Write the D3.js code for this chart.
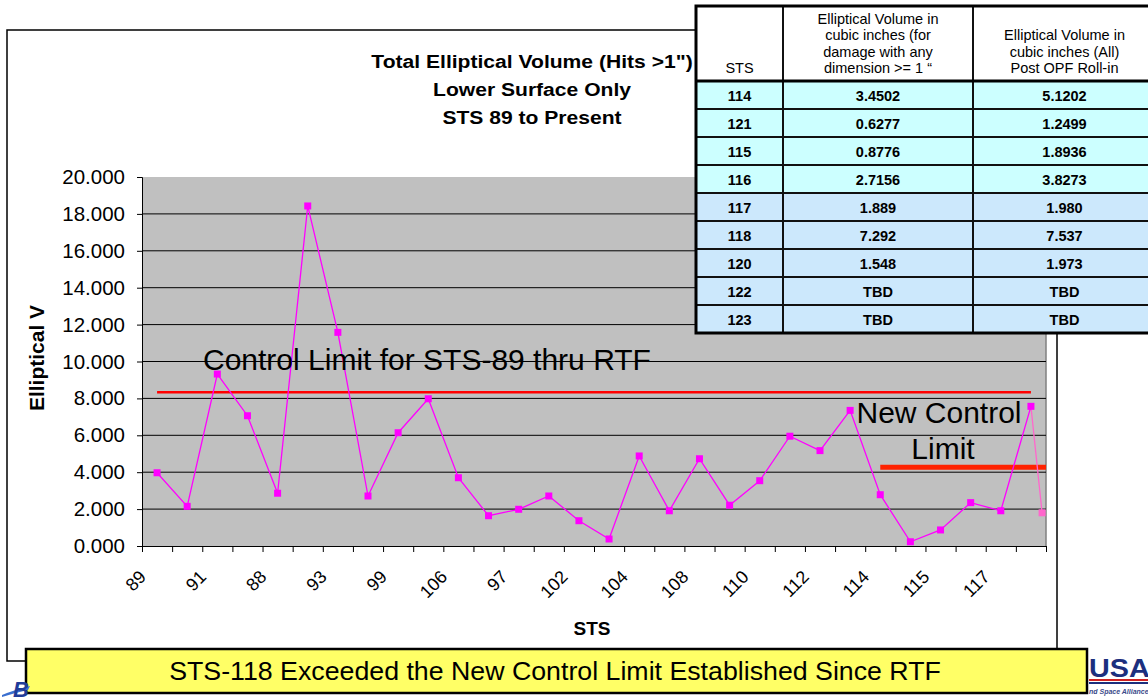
<!DOCTYPE html>
<html>
<head>
<meta charset="utf-8">
<script src="https://cdn.jsdelivr.net/npm/d3@7"></script>
<style>
  body { margin: 0; background: #fff; }
  svg { display: block; font-family: "Liberation Sans", Arial, sans-serif; }
</style>
</head>
<body>
<svg width="1148" height="700"></svg>
<script>
// chart data
const categories = ["89","90","91","95","88","96","93","103","99","101","106","92","97","98","102",
                    "100","104","105","108","109","110","111","112","113","114","121","115","116","117","118"]
const volume = [3.97, 2.15, 9.32, 7.06, 2.86, 18.43, 11.58, 2.71, 6.14, 7.98, 3.70, 1.64, 1.99, 2.71, 1.37,
                0.38, 4.88, 1.91, 4.73, 2.21, 3.54, 5.95, 5.17, 7.35, 2.78, 0.23, 0.87, 2.35, 1.91, 7.57]
const trailingPoint = { pos: 29.87, value: 1.80 }
const yTicks = [0, 2, 4, 6, 8, 10, 12, 14, 16, 18, 20]
const oldLimit = { value: 8.33, from: 0.5, to: 29.5 }
const newLimit = { value: 4.27, from: 24.5, to: 30 }

const titleLines = ["Total Elliptical Volume (Hits >1\")", "Lower Surface Only", "STS 89 to Present"]

// table
const tableSts = ["114","121","115","116","117","118","120","122","123"]
const tableVolume1in = ["3.4502","0.6277","0.8776","2.7156","1.889","7.292","1.548","TBD","TBD"]
const tableVolumeAll = ["5.1202","1.2499","1.8936","3.8273","1.980","7.537","1.973","TBD","TBD"]
const tableHeaders = [
    ["STS"],
    ["Elliptical Volume in", "cubic inches (for", "damage with any", "dimension >= 1 \u201c"],
    ["Elliptical Volume in", "cubic inches (All)", "Post OPF Roll-in"]
]

const config = {
    plot: { left: 142, right: 1046, top: 177, bottom: 546 },
    magenta: "#ff00ff"
}

const svg = d3.select("svg")

const x = d3.scaleLinear().domain([0, categories.length]).range([config.plot.left, config.plot.right])
const y = d3.scaleLinear().domain([0, 20]).range([config.plot.bottom, config.plot.top])

function drawFrame() {
    svg.append("rect")
        .attr("x", 7).attr("y", 30)
        .attr("width", 1050).attr("height", 631)
        .attr("fill", "#fff").attr("stroke", "#000").attr("stroke-width", 1.5)

    svg.append("rect")
        .attr("x", x(0)).attr("y", y(20))
        .attr("width", x(categories.length) - x(0)).attr("height", y(0) - y(20))
        .attr("fill", "#c0c0c0")

    svg.append("line")
        .attr("x1", x(categories.length)).attr("x2", x(categories.length))
        .attr("y1", y(20)).attr("y2", y(0))
        .attr("stroke", "#808080").attr("stroke-width", 1.5)

    svg.append("g")
        .selectAll("line")
        .data(yTicks.filter(d => d > 0 && d < 20))
        .join("line")
        .attr("x1", x(0)).attr("x2", x(categories.length))
        .attr("y1", d => y(d)).attr("y2", d => y(d))
        .attr("stroke", "#000").attr("stroke-width", 1)

    // slide title is a bit stretched sideways
    svg.selectAll(".title")
        .data(titleLines)
        .join("text")
        .attr("transform", (d, i) => "translate(532," + (68 + i * 28) + ") scale(1.14,1)")
        .attr("text-anchor", "middle")
        .attr("font-weight", "bold").attr("font-size", 18.5)
        .text(d => d)
}

function drawAxes() {
    const yAxis = d3.axisLeft(y)
        .tickValues(yTicks)
        .tickFormat(d3.format(".3f"))
        .tickSize(5).tickPadding(12)

    const gy = svg.append("g")
        .attr("transform", "translate(" + x(0) + ",0)")
        .call(yAxis)
    gy.selectAll("text").attr("font-size", 20.5).attr("font-family", null).attr("fill", "#000")
    gy.selectAll("line, path").attr("stroke", "#000")

    const xAxis = d3.axisBottom(x)
        .tickValues(d3.range(0, categories.length + 1))
        .tickFormat("")
        .tickSize(6).tickSizeOuter(0)

    const gx = svg.append("g")
        .attr("transform", "translate(0," + y(0) + ")")
        .call(xAxis)
    gx.selectAll("line, path").attr("stroke", "#000")

    svg.append("g")
        .selectAll("text")
        .data(categories.map((c, i) => ({ c, i })).filter(d => d.i % 2 === 0))
        .join("text")
        .attr("transform", d => "translate(" + (x(d.i + 0.5) - 10) + ",578) rotate(-45)")
        .attr("text-anchor", "end")
        .attr("font-size", 18)
        .text(d => d.c)

    svg.append("text")
        .attr("x", 592).attr("y", 635)
        .attr("text-anchor", "middle")
        .attr("font-weight", "bold").attr("font-size", 19)
        .text("STS")

    svg.append("text")
        .attr("transform", "translate(44,358) rotate(-90)")
        .attr("text-anchor", "middle")
        .attr("font-weight", "bold").attr("font-size", 21)
        .text("Elliptical V")
}

function drawLimits() {
    svg.append("line")
        .attr("x1", x(oldLimit.from)).attr("x2", x(oldLimit.to))
        .attr("y1", y(oldLimit.value)).attr("y2", y(oldLimit.value))
        .attr("stroke", "#ff0000").attr("stroke-width", 2.5)

    svg.append("line")
        .attr("x1", x(newLimit.from)).attr("x2", x(newLimit.to))
        .attr("y1", y(newLimit.value)).attr("y2", y(newLimit.value))
        .attr("stroke", "#ff2200").attr("stroke-width", 5)
}

function drawSeries() {
    const pts = volume.map((v, i) => [x(i + 0.5), y(v)])
    const last = pts[pts.length - 1]
    const tail = [x(trailingPoint.pos), y(trailingPoint.value)]

    svg.append("line")
        .attr("x1", last[0]).attr("y1", last[1])
        .attr("x2", tail[0]).attr("y2", tail[1])
        .attr("stroke", "#ff66cc").attr("stroke-width", 1.3)

    svg.append("path")
        .attr("d", d3.line()(pts))
        .attr("fill", "none")
        .attr("stroke", config.magenta).attr("stroke-width", 1.3)

    svg.append("g")
        .selectAll("rect")
        .data(pts)
        .join("rect")
        .attr("x", d => d[0] - 3.5).attr("y", d => d[1] - 3.5)
        .attr("width", 7).attr("height", 7)
        .attr("fill", config.magenta)

    svg.append("rect")
        .attr("x", tail[0] - 3.5).attr("y", tail[1] - 3.5)
        .attr("width", 7).attr("height", 7)
        .attr("fill", "#ff66cc")
}

function drawNotes() {
    svg.append("text")
        .attr("x", 203).attr("y", 370)
        .attr("font-size", 30)
        .text("Control Limit for STS-89 thru RTF")

    svg.append("text")
        .attr("x", 939).attr("y", 423)
        .attr("text-anchor", "middle")
        .attr("font-size", 30)
        .text("New Control")

    svg.append("text")
        .attr("x", 943).attr("y", 459)
        .attr("text-anchor", "middle")
        .attr("font-size", 30)
        .text("Limit")
}

function drawTable() {
    const cols = [696, 783, 973, 1156]
    const top = 6, headBottom = 81, rowH = 28
    const g = svg.append("g")
    const rowFill = i => i < 4 ? "#ccffff" : "#cce8fc"

    g.append("rect")
        .attr("x", cols[0]).attr("y", top)
        .attr("width", cols[3] - cols[0]).attr("height", headBottom - top)
        .attr("fill", "#fff")

    g.selectAll(".row")
        .data(tableSts)
        .join("rect")
        .attr("x", cols[0]).attr("y", (d, i) => headBottom + i * rowH)
        .attr("width", cols[3] - cols[0]).attr("height", rowH)
        .attr("fill", (d, i) => rowFill(i))

    const bottom = headBottom + tableSts.length * rowH

    // inner lines
    g.selectAll(".hl")
        .data(d3.range(1, tableSts.length))
        .join("line")
        .attr("x1", cols[0]).attr("x2", cols[3])
        .attr("y1", i => headBottom + i * rowH).attr("y2", i => headBottom + i * rowH)
        .attr("stroke", "#111").attr("stroke-width", 2)

    g.selectAll(".vl")
        .data([cols[1], cols[2]])
        .join("line")
        .attr("x1", d => d).attr("x2", d => d)
        .attr("y1", top).attr("y2", bottom)
        .attr("stroke", "#111").attr("stroke-width", 2)

    g.append("line")
        .attr("x1", cols[0]).attr("x2", cols[3])
        .attr("y1", headBottom).attr("y2", headBottom)
        .attr("stroke", "#000").attr("stroke-width", 3)

    g.append("rect")
        .attr("x", cols[0]).attr("y", top)
        .attr("width", cols[3] - cols[0]).attr("height", bottom - top)
        .attr("fill", "none").attr("stroke", "#000").attr("stroke-width", 3)

    // header text, bottom aligned
    tableHeaders.forEach((lines, c) => {
        const cx = (cols[c] + cols[c + 1]) / 2
        g.append("g").selectAll("text")
            .data(lines)
            .join("text")
            .attr("x", cx)
            .attr("y", (d, i) => 73 - (lines.length - 1 - i) * 16.3)
            .attr("text-anchor", "middle")
            .attr("font-size", 14.5)
            .text(d => d)
    })

    const cells = [tableSts, tableVolume1in, tableVolumeAll]
    cells.forEach((col, c) => {
        const cx = (cols[c] + cols[c + 1]) / 2
        g.append("g").selectAll("text")
            .data(col)
            .join("text")
            .attr("x", cx)
            .attr("y", (d, i) => headBottom + i * rowH + 20)
            .attr("text-anchor", "middle")
            .attr("font-weight", "bold").attr("font-size", 14.5)
            .text(d => d)
    })
}

function drawBanner() {
    svg.append("rect")
        .attr("x", 26).attr("y", 649)
        .attr("width", 1061).attr("height", 44)
        .attr("fill", "#ffff66").attr("stroke", "#000").attr("stroke-width", 2.5)

    svg.append("text")
        .attr("transform", "translate(555,680) scale(1.07,1)")
        .attr("text-anchor", "middle")
        .attr("font-size", 25)
        .text("STS-118 Exceeded the New Control Limit Established Since RTF")

    // logos (partial, at the slide edges)
    svg.append("path")
        .attr("d", "M2,695 Q14,690 30,686 L28,690 Q14,693 2,697 Z")
        .attr("fill", "#3a6fd0")
    svg.append("text")
        .attr("x", 13).attr("y", 697)
        .attr("font-size", 22).attr("font-weight", "bold").attr("font-style", "italic")
        .attr("fill", "#1f3c99")
        .text("B")

    svg.append("text")
        .attr("transform", "translate(1089,677) scale(1.15,1)")
        .attr("font-size", 25).attr("font-weight", "bold")
        .attr("fill", "#1c2f7e")
        .text("USA")
    svg.append("rect").attr("x", 1089).attr("y", 679).attr("width", 59).attr("height", 2).attr("fill", "#d02020")
    svg.append("rect").attr("x", 1089).attr("y", 682).attr("width", 59).attr("height", 2).attr("fill", "#1c2f7e")
    svg.append("text")
        .attr("x", 1089).attr("y", 694)
        .attr("font-size", 7).attr("font-weight", "bold").attr("font-style", "italic")
        .attr("fill", "#3a4a8a")
        .text("nd Space Alliance")
}

drawFrame()
drawAxes()
drawLimits()
drawSeries()
drawNotes()
drawTable()
drawBanner()
</script>
</body>
</html>
